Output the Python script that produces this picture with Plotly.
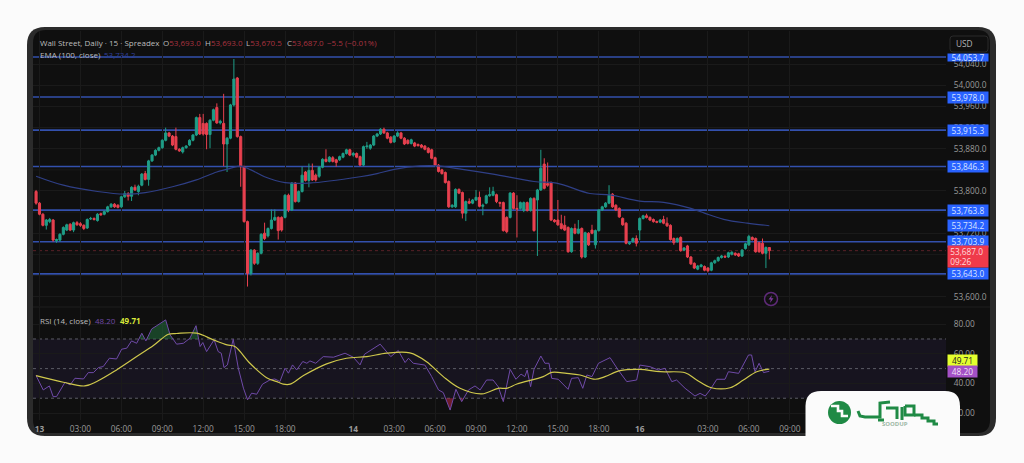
import plotly.graph_objects as go

# bars (15 min candles, bar number = position on the time axis)
opens = [
    53799,53777,53756,53735,53742,53745,53706,53707,53718,53726,
    53737,53726,53740,53738,53735,53730,53747,53748,53744,53757,
    53756,53761,53770,53775,53773,53770,53789,53795,53790,53807,
    53799,53811,53833,53822,53857,53868,53877,53882,53896,53910,
    53904,53903,53879,53874,53882,53887,53896,53906,53939,53928,
    53928,53907,53934,53958,53929,53928,53889,53900,53963,54014,
    53903,53846,53742,53644,53688,53663,53682,53720,53715,53729,
    53745,53750,53750,53750,53792,53764,53815,53780,53799,53836,
    53820,53839,53830,53828,53845,53860,53856,53863,53859,53859,
    53864,53871,53878,53868,53871,53865,53849,53884,53881,53887,
    53904,53908,53917,53910,53902,53893,53904,53910,53900,53896,
    53890,53891,53888,53887,53885,53881,53878,53863,53849,53840,
    53835,53818,53770,53770,53803,53797,53758,53780,53777,53783,
    53788,53771,53777,53791,53792,53793,53778,53778,53750,53750,
    53796,53767,53767,53763,53778,53763,53786,53783,53802,53851,
    53814,53816,53745,53745,53738,53735,53731,53685,53729,53720,
    53729,53675,53720,53726,53698,53725,53764,53770,53777,53794,
    53773,53767,53748,53739,53700,53704,53710,53726,53748,53753,
    53750,53746,53742,53741,53746,53739,53735,53710,53704,53712,
    53688,53696,53675,53663,53652,53657,53657,53654,53650,53664,
    53668,53674,53676,53675,53680,53682,53681,53677,53691,53698,
    53712,53710,53702,53701,53682,53693,
]
highs = [
    53802,53779,53758,53747,53749,53747,53710,53720,53733,53738,
    53739,53742,53743,53741,53737,53748,53751,53750,53758,53759,
    53763,53772,53777,53777,53775,53791,53800,53798,53809,53812,
    53812,53834,53838,53859,53870,53879,53884,53898,53920,53912,
    53906,53920,53881,53884,53887,53898,53908,53941,53946,53946,
    53930,53936,53956,53966,53935,53984,53902,53965,54050,54016,
    53905,53848,53744,53690,53690,53684,53720,53740,53731,53765,
    53765,53752,53752,53794,53795,53817,53817,53801,53846,53838,
    53852,53852,53833,53847,53862,53879,53866,53866,53861,53867,
    53873,53880,53880,53874,53873,53867,53886,53893,53889,53906,
    53910,53919,53920,53912,53904,53906,53913,53912,53902,53898,
    53899,53893,53890,53889,53887,53883,53880,53865,53851,53842,
    53837,53820,53775,53805,53805,53799,53782,53786,53785,53802,
    53799,53776,53793,53807,53808,53795,53780,53780,53752,53798,
    53798,53792,53780,53780,53780,53788,53788,53804,53878,53862,
    53854,53818,53747,53783,53755,53753,53733,53731,53738,53745,
    53731,53723,53722,53736,53727,53766,53772,53779,53811,53796,
    53775,53769,53750,53741,53704,53712,53716,53750,53755,53757,
    53752,53748,53744,53747,53753,53750,53737,53712,53712,53714,
    53694,53698,53677,53665,53660,53662,53659,53656,53666,53670,
    53676,53679,53679,53685,53686,53684,53683,53690,53702,53717,
    53714,53712,53704,53710,53695,53693,
]
lows = [
    53774,53754,53733,53727,53739,53704,53702,53704,53716,53724,
    53724,53722,53734,53732,53726,53728,53745,53744,53742,53753,
    53754,53759,53768,53768,53767,53768,53787,53782,53781,53800,
    53792,53809,53820,53810,53855,53866,53875,53880,53894,53902,
    53885,53877,53874,53871,53880,53885,53894,53904,53906,53905,
    53879,53881,53932,53927,53926,53847,53836,53898,53960,53901,
    53808,53740,53619,53640,53660,53660,53680,53707,53712,53727,
    53743,53708,53723,53748,53760,53762,53778,53778,53797,53818,
    53807,53819,53818,53825,53843,53854,53854,53854,53846,53857,
    53862,53869,53866,53865,53862,53847,53847,53880,53878,53885,
    53902,53906,53908,53898,53890,53891,53902,53898,53887,53888,
    53888,53883,53884,53881,53877,53871,53860,53847,53835,53831,
    53814,53768,53768,53768,53794,53748,53743,53775,53775,53781,
    53769,53754,53775,53789,53790,53777,53770,53723,53720,53748,
    53765,53712,53765,53760,53761,53761,53723,53677,53800,53803,
    53808,53743,53740,53734,53727,53724,53683,53683,53718,53718,
    53672,53673,53696,53718,53691,53723,53762,53768,53775,53768,
    53762,53749,53734,53699,53698,53702,53695,53707,53746,53748,
    53743,53740,53739,53739,53737,53732,53706,53698,53702,53685,
    53686,53673,53660,53652,53650,53655,53648,53646,53648,53662,
    53666,53672,53673,53673,53678,53677,53675,53675,53689,53696,
    53706,53683,53683,53680,53654,53670.5,
]
closes = [
    53777,53756,53735,53745,53746,53707,53708,53718,53731,53736,
    53726,53740,53736,53735,53729,53746,53748,53746,53756,53755,
    53761,53770,53775,53770,53769,53789,53795,53790,53807,53802,
    53809,53832,53822,53857,53868,53877,53882,53896,53910,53904,
    53887,53879,53876,53882,53885,53896,53906,53939,53908,53908,
    53907,53934,53954,53929,53932,53889,53900,53963,54012,53903,
    53846,53742,53644,53688,53663,53682,53718,53710,53729,53745,
    53750,53725,53726,53792,53764,53815,53780,53799,53830,53820,
    53839,53821,53821,53845,53860,53856,53864,53856,53854,53865,
    53871,53878,53868,53871,53864,53849,53884,53885,53887,53904,
    53908,53917,53910,53900,53892,53904,53910,53900,53889,53890,
    53897,53885,53886,53883,53879,53873,53862,53849,53837,53833,
    53816,53770,53773,53803,53796,53758,53780,53777,53783,53788,
    53771,53773,53791,53793,53799,53780,53777,53725,53723,53796,
    53767,53766,53778,53778,53763,53786,53725,53802,53843,53805,
    53811,53745,53742,53736,53729,53726,53685,53729,53720,53728,
    53675,53721,53698,53720,53725,53764,53770,53777,53792,53770,
    53764,53751,53736,53701,53702,53710,53701,53748,53753,53750,
    53745,53742,53741,53745,53739,53734,53708,53702,53710,53687,
    53692,53675,53662,53654,53658,53660,53650,53649,53664,53668,
    53674,53677,53675,53683,53684,53679,53677,53688,53700,53714,
    53708,53685,53685,53682,53693,53687,
]
bars = list(range(len(closes)))

# EMA 100, read at its bends
ema_x = [0,8,18,26,32,40,47,53,57,60,63,67,73,80,95,100,105,112.7,117.6,125,134,146,152.6,162.4,168.3,177,184,192,196,201.6,208.5,215]
ema_vals = [53828,53811,53799,53794,53797,53808,53821,53836,53843,53847,53840,53827,53816,53815,53827,53833,53841,53847.4,53847.4,53841,53832,53818,53815,53795.3,53792.5,53781,53778.5,53767,53758,53746.4,53739,53734.2]

# RSI and its moving average, read at the bends
rsi_x = [0,2.1,3.9,5,6,8.5,10,11.4,13.9,15.3,16.8,18.3,19.7,21.5,23.6,25.1,26.6,28,29.5,31,32.2,33.9,35.4,38,39.3,41.2,43.2,45.1,46.9,48.1,48.9,50,52.2,53.4,54.3,55.1,56.1,57.8,59.3,60.8,62,63.2,64.7,66.4,68.6,70,71.5,73,74,75.2,76.4,78.2,79.4,80.3,82,84.2,87.2,90.6,93,95,96.3,98.4,100.9,104,106.2,108.2,109.2,110.6,114,116,118,119.4,121.4,123.1,124.8,126.8,128.7,130.2,132.1,134,135.5,137,139,140.7,142.2,143.3,144,145,146,148,149.2,150.4,151.2,153.1,156,157,159,160.3,161.5,163,164.9,168.3,170.7,173.2,176.1,177,180,182.5,184.4,186.4,187.8,190.3,193.2,194.7,196.2,197.6,199.6,202,203,206,208.9,209.8,210.8,212,213.3,215]
rsi_vals = [45.3,35.6,38.3,31.1,31.1,40.8,39,43.5,43,47.3,47.3,50.7,51.4,57,56.5,63.1,63.8,68.7,67.1,73.9,68.7,76.8,79,82.9,72.8,66.5,67.1,70.5,79,64.9,67.6,61.5,69.4,61.5,60.4,50.7,52.5,69.8,50.3,36.8,28.9,33.4,32.7,39.5,42.4,43,41.3,50.3,46.9,52.5,49.1,54.8,53.6,55.2,53.6,58.1,57.7,60.4,57.7,52.5,59.7,62.6,66.5,58.1,62.2,54.1,57,53.6,52.4,44.6,35.6,33.8,22,36,27.7,35.6,38.3,35.6,42.3,42.3,37.8,27.7,49.5,42.8,46.3,44.6,49,37.8,49.5,58.5,53.6,53.6,43.4,42.8,36,43.4,43.9,36.7,45.7,44.6,53.6,57.4,49,41.2,42.3,52.4,51.3,49,50.2,41.2,42.3,36.7,31.5,33.3,31.5,35.6,42.8,42.8,47.9,46.8,59.2,59.2,47.9,53.6,47.3,48.2]
rsi_ma_x = [0,8,14.3,17.8,23.6,29.5,34.4,38.8,41.2,47.1,52,56,58.3,62.7,67.6,71,72.5,74.5,78.4,85.2,91,97,102.8,109.6,114.5,119.4,124.3,130.7,135.5,138,141,148.7,151.2,155.6,159.5,163.9,166.8,171.2,177,183,190.3,193.7,198,203.5,207.4,211.3,215]
rsi_ma_vals = [45.3,40.8,38.3,41.3,49.1,58.1,65.6,73.2,73.7,73.9,69.4,66,64.9,53.6,43.9,40.8,39.5,39.5,45.3,53.2,57,58.1,60.4,60.6,54.7,44.6,36.7,32.9,36.7,36.7,39.6,44.6,47.5,46.8,45.7,42.8,44.6,48.6,49.5,47.9,47.2,42.3,37.1,37.1,42.3,47.9,49.71]

# horizontal levels drawn on the chart
level_prices = [54053.7, 53978.0, 53915.3, 53846.3, 53763.8, 53703.9, 53643.0]
ema_last = 53734.2
last_close = 53687.0
rsi_last = 48.20
rsi_ma_last = 49.71

price_ticks = [54040,54000,53960,53920,53880,53800,53720,53600]
grid_prices = [53840,53760,53680,53640]  # hidden behind the price chips
rsi_ticks = [80, 60, 40, 20]
rsi_bands = [70, 50, 30]
time_ticks = [1,13,25,37,49,61,73,93,105,117,129,141,153,165,177,197,209,221]
time_labels = ["<b>13</b>","03:00","06:00","09:00","12:00","15:00","18:00","<b>14</b>","03:00","06:00","09:00","12:00","15:00","18:00","<b>16</b>","03:00","06:00","09:00"]

W, H = 1024, 463
FONT = "Open Sans"
BLUE = "#2962ff"
LINE_BLUE = "#3350ad"


def px(x):
    return x / W


def py(y):
    return 1 - y / H


def round_box(x0, y0, x1, y1, r):
    # rounded rectangle in page pixels
    a, b, c, d = px(x0), py(y0), px(x1), py(y1)
    rx, ry = r / W, r / H
    return (f"M {a+rx} {b} L {c-rx} {b} Q {c} {b} {c} {b-ry} L {c} {d+ry} Q {c} {d} {c-rx} {d} "
            f"L {a+rx} {d} Q {a} {d} {a} {d+ry} L {a} {b-ry} Q {a} {b} {a+rx} {b} Z")


def pix_path(points):
    # open polyline in page pixels
    return "M " + " L ".join(f"{px(x)} {py(y)}" for x, y in points)


def beyond(xs, ys, level, above):
    # pieces of a line on the far side of a band edge, for the small fills
    out_x, out_y = [], []
    for i in range(len(xs) - 1):
        a, b = ys[i] - level, ys[i + 1] - level
        if not above:
            a, b = -a, -b
        if a >= 0:
            out_x.append(xs[i])
            out_y.append(ys[i])
        if a * b < 0:
            t = a / (a - b)
            out_x.append(xs[i] + t * (xs[i + 1] - xs[i]))
            out_y.append(level)
            if b < 0:
                out_x.append(None)
                out_y.append(None)
    return out_x, out_y


fig = go.Figure()

fig.add_trace(go.Candlestick(
    x=bars, open=opens, high=highs, low=lows, close=closes,
    increasing=dict(line=dict(color="#1f9e88", width=1), fillcolor="#1f9e88"),
    decreasing=dict(line=dict(color="#e8404f", width=1), fillcolor="#e8404f"),
    whiskerwidth=0, hoverinfo="skip", xaxis="x", yaxis="y",
))
fig.add_trace(go.Scatter(x=ema_x, y=ema_vals, mode="lines", line=dict(color="#2f3f86", width=1.2, shape="spline"),
                         hoverinfo="skip", xaxis="x", yaxis="y"))

ob_x, ob_y = beyond(rsi_x, rsi_vals, 70, True)
os_x, os_y = beyond(rsi_x, rsi_vals, 30, False)
fig.add_trace(go.Scatter(x=ob_x, y=ob_y, mode="none", fill="toself", fillcolor="rgba(35,110,60,0.55)",
                         hoverinfo="skip", xaxis="x", yaxis="y2"))
fig.add_trace(go.Scatter(x=os_x, y=os_y, mode="none", fill="toself", fillcolor="rgba(190,40,70,0.55)",
                         hoverinfo="skip", xaxis="x", yaxis="y2"))
fig.add_trace(go.Scatter(x=rsi_x, y=rsi_vals, mode="lines", line=dict(color="#6f4aa8", width=1),
                         hoverinfo="skip", xaxis="x", yaxis="y2"))
fig.add_trace(go.Scatter(x=rsi_ma_x, y=rsi_ma_vals, mode="lines", line=dict(color="#cfc84c", width=1.2, shape="spline"),
                         hoverinfo="skip", xaxis="x", yaxis="y2"))

shapes = [
    # page panel
    dict(type="path", path=round_box(27, 27, 996, 436, 18), xref="paper", yref="paper",
         fillcolor="#2b2b2b", line=dict(width=0), layer="below"),
    dict(type="path", path=round_box(33, 30, 990, 433, 13), xref="paper", yref="paper",
         fillcolor="#0f0f0f", line=dict(width=0), layer="below"),
    # separator between the panes
    dict(type="line", xref="paper", yref="paper", x0=px(33), x1=px(990), y0=py(307), y1=py(307),
         line=dict(color="#1e1e1e", width=1), layer="below"),
    # RSI band
    dict(type="rect", xref="x domain", yref="y2", x0=0, x1=1, y0=rsi_bands[2], y1=rsi_bands[0],
         fillcolor="#17141f", line=dict(width=0), layer="below"),
    # last price line
    dict(type="line", xref="x domain", yref="y", x0=0, x1=1, y0=last_close, y1=last_close,
         line=dict(color="#5a2028", width=1, dash="dot"), layer="below"),
]
for band in rsi_bands:
    shapes.append(dict(type="line", xref="x domain", yref="y2", x0=0, x1=1, y0=band, y1=band,
                       line=dict(color="#5c5c66", width=1, dash="3px,3px"), layer="below"))
for level in level_prices:
    shapes.append(dict(type="line", xref="x domain", yref="y", x0=0, x1=1, y0=level, y1=level,
                       line=dict(color=LINE_BLUE, width=1.6), layer="below"))
for gp in grid_prices:
    shapes.append(dict(type="line", xref="x domain", yref="y", x0=0, x1=1, y0=gp, y1=gp,
                       line=dict(color="#1a1a1a", width=1), layer="below"))

# USD box, flash icon, logo tab
shapes += [
    dict(type="path", path=round_box(950, 36, 988, 52, 3), xref="paper", yref="paper",
         fillcolor="#0f0f0f", line=dict(color="#2a2a2a", width=1)),
    dict(type="circle", xref="paper", yref="paper", x0=px(764.5), x1=px(777.5), y0=py(305.5), y1=py(292.5),
         fillcolor="rgba(0,0,0,0)", line=dict(color="#5e2a78", width=1.5)),
    dict(type="path", xref="paper", yref="paper", fillcolor="#7c3a9c", line=dict(width=0),
         path=pix_path([(772, 295), (768.5, 299.5), (770.8, 299.5), (770, 303), (773.5, 298.3), (771.2, 298.3)]) + " Z"),
    dict(type="path", xref="paper", yref="paper", fillcolor="#fbfbfb", line=dict(width=0),
         path=(f"M {px(805.5)} {py(436)} L {px(805.5)} {py(406)} Q {px(805.5)} {py(391)} {px(821)} {py(391)} "
               f"L {px(945)} {py(391)} Q {px(960)} {py(391)} {px(960)} {py(406)} L {px(960)} {py(436)} Z")),
    dict(type="circle", xref="paper", yref="paper", x0=px(828), x1=px(851), y0=py(424), y1=py(401),
         fillcolor="#1f8a45", line=dict(width=0)),
    dict(type="path", xref="paper", yref="paper", line=dict(color="#fbfbfb", width=2.6),
         path=pix_path([(831, 406), (838, 406), (838, 411), (842, 411), (842, 416), (848, 416)])),
]
logo_strokes = [
    [(858, 411), (860, 416), (865, 417), (880, 417), (880, 403), (890, 402)],
    [(878, 420), (884, 420)],
    [(886, 408), (897, 408), (897, 419)],
    [(905, 406), (914, 406), (914, 415), (905, 415), (905, 406)],
    [(902, 407), (902, 420)],
    [(914, 415), (922, 415), (922, 418), (928, 418), (928, 421), (934, 421), (934, 424), (938, 424)],
]
for stroke in logo_strokes:
    shapes.append(dict(type="path", xref="paper", yref="paper", path=pix_path(stroke),
                       line=dict(color="#1f8a45", width=3)))

RED = "#a93340"
LEG = dict(size=8, color="#bdbdbd")
notes = [
    dict(x=px(38), y=py(43), xanchor="left", font=LEG, text="Wall Street, Daily · 15 · Spreadex"),
    dict(x=px(161), y=py(43), xanchor="left", font=LEG, text=f"O<span style='color:{RED}'>53,693.0</span>"),
    dict(x=px(203), y=py(43), xanchor="left", font=LEG, text=f"H<span style='color:{RED}'>53,693.0</span>"),
    dict(x=px(244), y=py(43), xanchor="left", font=LEG, text=f"L<span style='color:{RED}'>53,670.5</span>"),
    dict(x=px(285), y=py(43), xanchor="left", font=LEG, text=f"C<span style='color:{RED}'>53,687.0</span>"),
    dict(x=px(325), y=py(43), xanchor="left", font=dict(size=8, color=RED), text="−5.5 (−0.01%)"),
    dict(x=px(38), y=py(54), xanchor="left", font=LEG, text="EMA (100, close)"),
    dict(x=px(102), y=py(54), xanchor="left", font=dict(size=8, color="#2f3f9a"), text="53,734.2"),
    dict(x=px(38), y=py(320), xanchor="left", font=LEG, text="RSI (14, close)"),
    dict(x=px(93), y=py(320), xanchor="left", font=dict(size=8, color="#6f4ba8"), text="48.20"),
    dict(x=px(118), y=py(320), xanchor="left", font=dict(size=8, color="#d8e83a"), text="<b>49.71</b>"),
    dict(x=px(964), y=py(43.5), xanchor="center", font=dict(size=8.3, color="#b5b5b5"), text="USD"),
    dict(x=px(895), y=py(424), xanchor="center", font=dict(size=6, color="#9db8a6"), text="<b>SOODUP</b>"),
]
for n in notes:
    n.update(xref="paper", yref="paper", showarrow=False, yanchor="middle")


def chip(yref, y, text, bg, color, x0=948, x1=988, h=11, align="center"):
    return dict(xref="paper", yref=yref, x=px((x0 + x1) / 2), y=y, xanchor="center", yanchor="middle",
                text=text, showarrow=False, width=x1 - x0, height=h, bgcolor=bg, borderpad=0, align=align,
                font=dict(size=8.3, color=color, family=FONT))


for level in level_prices[1:]:
    notes.append(chip("y", level, f"{level:,.1f}", BLUE, "#d8e4ff"))
notes.append(chip("y", level_prices[0], f"{level_prices[0]:,.1f}", BLUE, "#d8e4ff", h=7))
notes.append(chip("y", ema_last, f"{ema_last:,.1f}", BLUE, "#d8e4ff"))
notes.append(chip("y", 53676.3, f"&nbsp;{last_close:,.1f}<br>&nbsp;09:26", "#ef3a4a", "#ffd9dc", h=21, align="left"))
# RSI chips stacked so both stay readable, as in the platform
notes.append(chip("y2", 55.5, f"{rsi_ma_last:.2f}", "#e4ff2e", "#222222", x1=977, h=10.5))
notes.append(chip("y2", 47.9, f"{rsi_last:.2f}", "#a450c6", "#efe3f5", x1=977, h=10.5))

axis_font = dict(size=8.3, color="#9a9a9a", family=FONT)
fig.update_layout(
    width=W, height=H,
    margin=dict(l=0, r=0, t=0, b=0),
    autosize=False,
    paper_bgcolor="#fbfbfb",
    plot_bgcolor="rgba(0,0,0,0)",
    showlegend=False,
    font=dict(family=FONT),
    boxgap=0.12,
    shapes=shapes,
    annotations=notes,
    xaxis=dict(domain=[px(33), px(946)], range=[-0.9, 266.8], anchor="y2",
               tickmode="array", tickvals=time_ticks, ticktext=time_labels, tickfont=axis_font,
               showgrid=True, gridcolor="#1a1a1a", gridwidth=1, ticks="outside", ticklen=1, tickcolor="rgba(0,0,0,0)",
               zeroline=False, showline=False, rangeslider=dict(visible=False)),
    yaxis=dict(domain=[py(306), py(31)], range=[53582.2, 54103], anchor="x", side="right",
               tickmode="array", tickvals=price_ticks, ticktext=[f"{t:,.1f}" for t in price_ticks],
               tickfont=axis_font, showgrid=True, gridcolor="#1a1a1a", zeroline=False, showline=False,
               ticks="outside", ticklen=5, tickcolor="rgba(0,0,0,0)"),
    yaxis2=dict(domain=[py(420), py(307)], range=[15.3, 91.6], anchor="x", side="right",
                tickmode="array", tickvals=rsi_ticks, ticktext=[f"{t:.2f}" for t in rsi_ticks],
                tickfont=axis_font, showgrid=True, gridcolor="#1a1a1a", zeroline=False, showline=False,
                ticks="outside", ticklen=5, tickcolor="rgba(0,0,0,0)"),
)

# page margin off, so the figure sits at 0,0 in the window
fig.write_html("out.html", config=dict(displayModeBar=False), post_script="document.body.style.margin='0';")
